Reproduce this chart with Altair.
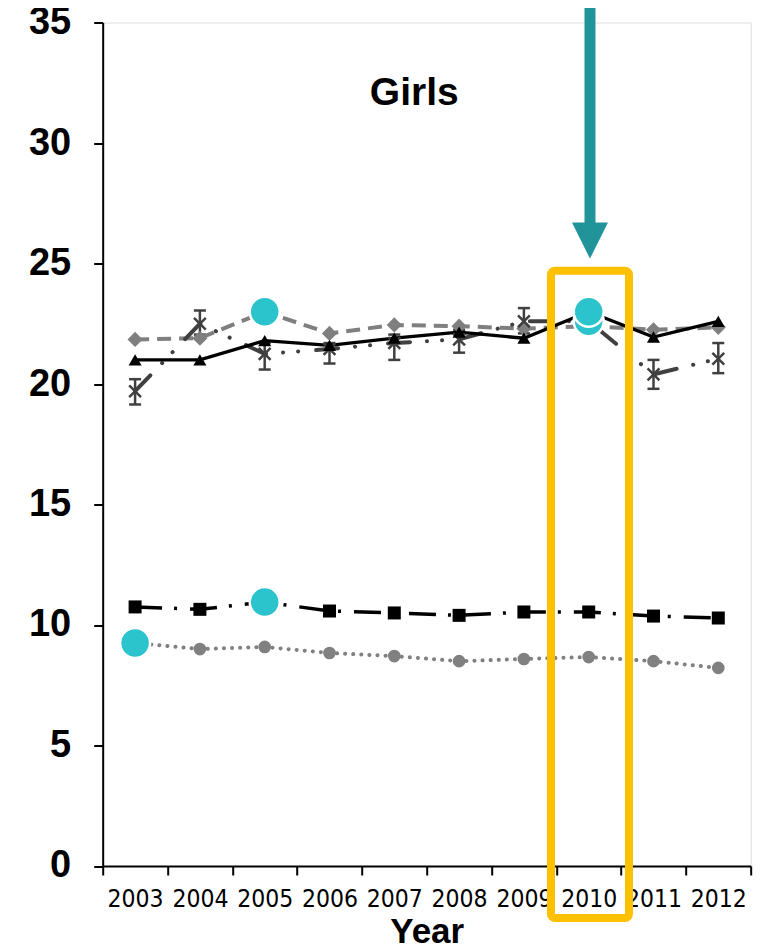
import altair as alt
import pandas as pd

years = ["2003", "2004", "2005", "2006", "2007", "2008", "2009", "2010", "2011", "2012"]
triangle_vals = [21.0, 21.0, 21.8, 21.6, 21.9, 22.15, 21.9, 23.0, 21.95, 22.6]
diamond_vals = [21.85, 21.9, 23.0, 22.1, 22.45, 22.4, 22.3, 22.4, 22.25, 22.35]
cross_vals = [19.7, 22.5, 21.25, 21.45, 21.7, 21.85, 22.6, 22.6, 20.4, 21.05]
cross_lo = [19.15, 22.05, 20.6, 20.85, 21.0, 21.3, 22.1, None, 19.8, 20.45]
cross_hi = [20.2, 23.05, 21.7, 21.7, 22.05, 22.25, 23.15, None, 21.0, 21.7]
square_vals = [10.75, 10.65, 10.95, 10.58, 10.5, 10.4, 10.54, 10.54, 10.37, 10.29]
circle_vals = [9.25, 9.0, 9.09, 8.84, 8.71, 8.5, 8.59, 8.67, 8.5, 8.22]
highlight_years = ["2003", "2005", "2005", "2010", "2010"]
highlight_vals = [9.25, 10.95, 23.0, 22.6, 23.0]
y_ticks = [0, 5, 10, 15, 20, 25, 30, 35]
focus_year = ["2010"]
panel_label = ["Girls"]
panel_label_year = ["2007"]

BLACK = "#000000"
GRAY = "#808080"
DARK = "#404040"
CYAN = "#2BC4CC"
TEAL = "#21949A"
ORANGE = "#FFC000"
NARROW = "DejaVu Sans Condensed, Liberation Sans, sans-serif"

def frame(vals):
    return pd.DataFrame({"year": years, "value": vals})

err_df = pd.DataFrame({"year": years, "lo": cross_lo, "hi": cross_hi}).dropna()
hl_df = pd.DataFrame({"year": highlight_years, "value": highlight_vals})
focus_df = pd.DataFrame({"year": focus_year})
label_df = pd.DataFrame({"year": panel_label_year, "label": panel_label})

x_enc = alt.X(
    "year:N",
    scale=alt.Scale(type="band", domain=years, paddingInner=0, paddingOuter=0),
    axis=alt.Axis(
        title="Year",
        labelAngle=0,
        tickBand="extent",
        labelFont=NARROW,
        labelFontSize=24.5,
        labelColor=BLACK,
        labelPadding=13,
        tickSize=9,
        tickWidth=2,
        tickColor=BLACK,
        domainColor=BLACK,
        domainWidth=2,
        titleFont="Liberation Sans",
        titleFontSize=35,
        titleFontWeight="bold",
        titleColor=BLACK,
        titlePadding=3,
        grid=False,
    ),
)
y_enc = alt.Y(
    "value:Q",
    scale=alt.Scale(domain=[0, 35], nice=False, zero=True),
    axis=alt.Axis(
        title=None,
        values=y_ticks,
        labelFont="Liberation Sans",
        labelFontSize=38,
        labelFontWeight="bold",
        labelColor=BLACK,
        labelPadding=23,
        tickSize=9,
        tickWidth=2,
        tickColor=BLACK,
        domainColor=BLACK,
        domainWidth=2,
        grid=False,
    ),
)

def line(vals, color, width, dash=None, cap="butt"):
    kw = dict(color=color, strokeWidth=width, strokeCap=cap)
    if dash is not None:
        kw["strokeDash"] = dash
    return alt.Chart(frame(vals)).mark_line(**kw).encode(x=x_enc, y=y_enc)

def pts(vals, shape, size, color, filled=True, sw=0):
    if filled:
        m = alt.Chart(frame(vals)).mark_point(shape=shape, size=size, filled=True, color=color, opacity=1)
    else:
        m = alt.Chart(frame(vals)).mark_point(shape=shape, size=size, filled=False, color=color, strokeWidth=sw, opacity=1)
    return m.encode(x=x_enc, y=y_enc)

err_rule = alt.Chart(err_df).mark_rule(color=DARK, strokeWidth=2.5).encode(
    x=x_enc, y=alt.Y("lo:Q"), y2=alt.Y2("hi:Q"))
err_lo = alt.Chart(err_df).mark_tick(color=DARK, size=12, thickness=2.5, opacity=1).encode(x=x_enc, y=alt.Y("lo:Q"))
err_hi = alt.Chart(err_df).mark_tick(color=DARK, size=12, thickness=2.5, opacity=1).encode(x=x_enc, y=alt.Y("hi:Q"))

l_circle = line(circle_vals, GRAY, 4, [0.1, 8], "round")
l_square = line(square_vals, BLACK, 3.5, [27, 12, 3, 13])
l_diamond = line(diamond_vals, "#7F7F7F", 4, [14, 8])
l_cross = line(cross_vals, DARK, 4, [22, 17, 0.1, 15, 0.1, 18], "round")
l_tri = line(triangle_vals, BLACK, 3.3)

p_circle = pts(circle_vals, "circle", 160, GRAY)
p_square = pts(square_vals, "square", 169, BLACK)
p_diamond = pts(diamond_vals, "diamond", 230, "#7F7F7F")
p_cross = pts(cross_vals, "M-1,-1L1,1M-1,1L1,-1", 140, DARK, filled=False, sw=2.5)
p_tri = pts(triangle_vals, "triangle-up", 170, BLACK)

hl = alt.Chart(hl_df).mark_point(shape="circle", size=900, filled=True, color=CYAN,
                                 stroke="white", strokeWidth=2.5, opacity=1).encode(x=x_enc, y=y_enc)

box = alt.Chart(focus_df).mark_rect(filled=False, stroke=ORANGE, strokeWidth=8, width=78, xOffset=1.3,
                                    cornerRadius=4, fill=None).encode(
    x=x_enc, y=alt.datum(24.7), y2=alt.datum(-2.16))
shaft = alt.Chart(focus_df).mark_rule(color=TEAL, strokeWidth=11, xOffset=1.3).encode(
    x=x_enc, y=alt.datum(35.8), y2=alt.datum(26.5))
head = alt.Chart(focus_df).mark_point(shape="M-1,-1L1,-1L0,1Z", size=1296, filled=True, color=TEAL,
                                      opacity=1, xOffset=1.3).encode(x=x_enc, y=alt.datum(25.95))

girls = alt.Chart(label_df).mark_text(font="Liberation Sans", fontSize=39, fontWeight="bold", color=BLACK,
                                      align="center", baseline="alphabetic", dx=20).encode(
    x=x_enc, y=alt.datum(31.58), text="label:N")

chart = alt.layer(
    err_rule, err_lo, err_hi,
    l_circle, l_square, l_diamond, l_cross, l_tri,
    p_circle, p_square, p_diamond, p_cross, p_tri,
    hl, girls, box, shaft, head,
).properties(
    width=648,
    height=843.5,
    autosize=alt.AutoSizeParams(type="none"),
    padding={"left": 94.7, "top": 14.5, "right": 10, "bottom": 82},
).configure_view(stroke=None).configure(background="white")

chart.save("out.html", embed_options={"renderer": "svg", "actions": False})
